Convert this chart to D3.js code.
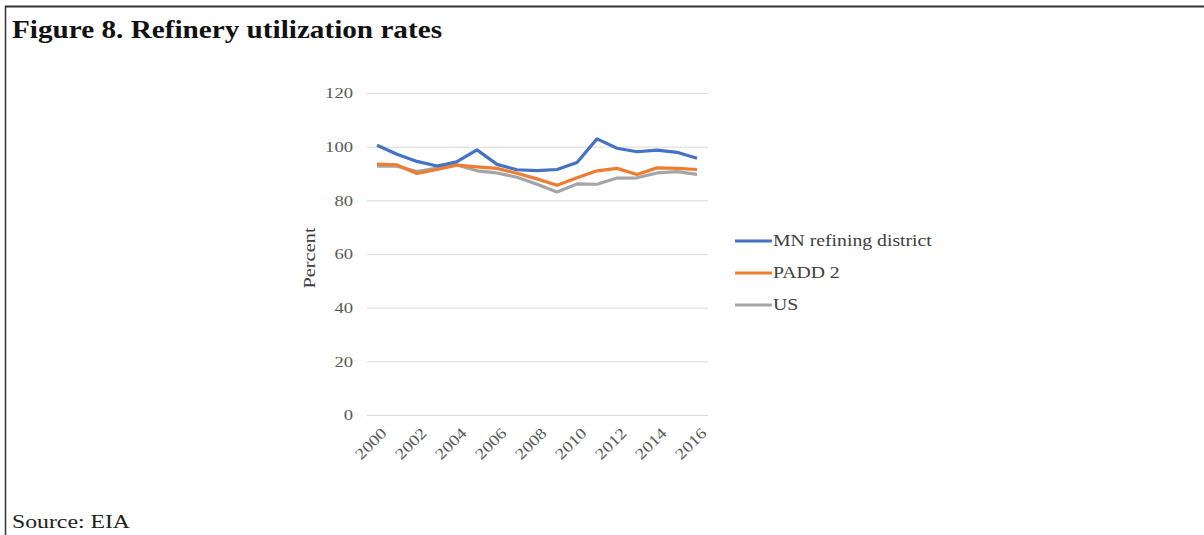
<!DOCTYPE html>
<html><head><meta charset="utf-8">
<script src="https://cdn.jsdelivr.net/npm/d3@7"></script>
<style>body{margin:0;background:#fff}svg{display:block}</style>
</head><body>
<svg id="c" width="1204" height="535"></svg>
<script>
const years = [2000,2001,2002,2003,2004,2005,2006,2007,2008,2009,2010,2011,2012,2013,2014,2015,2016];
const mnDistrict = [100.5,97.2,94.5,92.8,94.4,98.8,93.4,91.4,91.1,91.5,94.1,102.9,99.4,98.1,98.7,97.9,95.7];
const padd2 = [93.5,93.2,90.0,91.5,93.1,92.5,91.9,90.1,88.0,85.6,88.4,91.0,91.9,89.6,92.1,91.9,91.5];
const us = [92.7,92.7,90.7,92.0,93.2,91.0,90.2,88.6,86.0,83.1,86.1,86.0,88.3,88.4,90.2,90.7,89.7];
const yTicks = [0,20,40,60,80,100,120];
const xTickYears = [2000,2002,2004,2006,2008,2010,2012,2014,2016];
const seriesNames = ["MN refining district","PADD 2","US"];
const seriesColors = ["#4472C4","#ED7D31","#A5A5A5"];
const seriesData = [mnDistrict, padd2, us];

const svg = d3.select("#c");
const serif = "'Liberation Serif','DejaVu Serif',serif";

function widen(sel, f){
  sel.each(function(){
    const w = this.getComputedTextLength();
    d3.select(this).attr("textLength", w*f).attr("lengthAdjust","spacingAndGlyphs");
  });
}

// frame
svg.append("line").attr("x1",5).attr("x2",1204).attr("y1",6.5).attr("y2",6.5).attr("stroke","#333").attr("stroke-width",2);
svg.append("line").attr("x1",5.5).attr("x2",5.5).attr("y1",6).attr("y2",535).attr("stroke","#333").attr("stroke-width",1.5);

svg.append("text").attr("x",12).attr("y",38).attr("font-family",serif).attr("font-weight","bold")
  .attr("font-size",25).attr("fill","#111").text("Figure 8. Refinery utilization rates")
  .attr("textLength",430).attr("lengthAdjust","spacingAndGlyphs");
svg.append("text").attr("x",12).attr("y",528).attr("font-family",serif)
  .attr("font-size",19).attr("fill","#222").text("Source: EIA")
  .attr("textLength",118).attr("lengthAdjust","spacingAndGlyphs");

const x = d3.scaleLinear().domain([2000,2016]).range([377,697]);
const y = d3.scaleLinear().domain([0,120]).range([415,93]);

// gridlines
const grid = d3.axisLeft(y).tickValues(yTicks).tickSize(-(708-367)).tickFormat("");
svg.append("g").attr("transform","translate(367,0)").call(grid)
  .call(g=>g.select(".domain").remove())
  .call(g=>g.selectAll("line").attr("stroke","#D9D9D9").attr("stroke-width",1));

// y labels
const yAx = d3.axisLeft(y).tickValues(yTicks).tickSize(0).tickPadding(0);
svg.append("g").attr("transform","translate(353,0)").call(yAx)
  .call(g=>g.select(".domain").remove())
  .call(g=>{
    g.selectAll("text").attr("font-family",serif).attr("font-size",15.5).attr("fill","#595959");
    widen(g.selectAll("text"),1.2);
  });

// x labels
const xAx = d3.axisBottom(x).tickValues(xTickYears).tickSize(0).tickFormat(d3.format("d"));
svg.append("g").attr("transform","translate(0,415)").call(xAx)
  .call(g=>g.select(".domain").remove())
  .call(g=>{
    g.selectAll("text").attr("font-family",serif).attr("font-size",15.5).attr("fill","#595959")
      .attr("text-anchor","end").attr("dy",0).attr("transform","translate(8,17) rotate(-45)");
    widen(g.selectAll("text"),1.2);
  });

const pl = svg.append("text").attr("transform","translate(315,258) rotate(-90)").attr("text-anchor","middle")
  .attr("font-family",serif).attr("font-size",17).attr("fill","#404040").text("Percent");
widen(pl,1.2);

const line = d3.line().x((d,i)=>x(years[i])).y(d=>y(d));
[2,1,0].forEach(k=>{
  svg.append("path").datum(seriesData[k]).attr("d",line).attr("fill","none")
    .attr("stroke",seriesColors[k]).attr("stroke-width",3.2).attr("stroke-linejoin","round");
});

// legend
seriesNames.forEach((n,i)=>{
  const ly = 241 + i*32;
  svg.append("line").attr("x1",735).attr("x2",772).attr("y1",ly).attr("y2",ly)
    .attr("stroke",seriesColors[i]).attr("stroke-width",3.2);
  const t = svg.append("text").attr("x",773).attr("y",ly+5).attr("font-family",serif).attr("font-size",17)
    .attr("fill","#404040").text(n);
  widen(t,1.16);
});
</script>
</body></html>
